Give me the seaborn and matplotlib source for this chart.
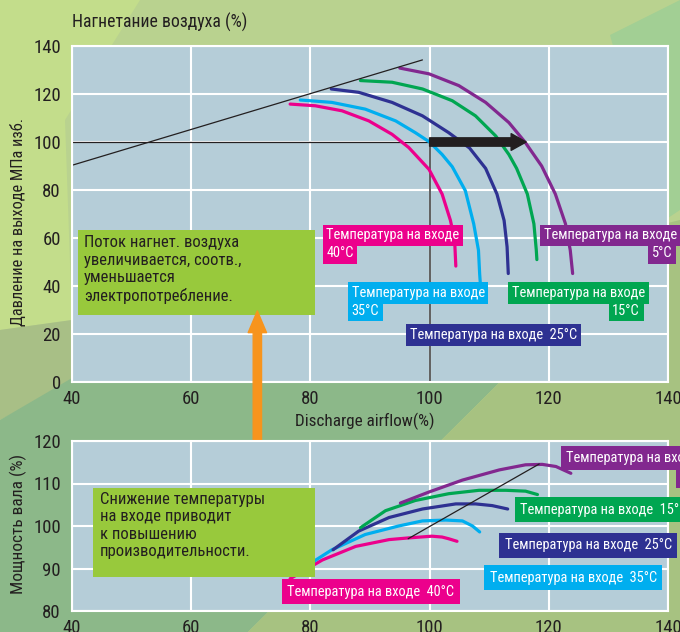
import numpy as np
import pandas as pd
import matplotlib
matplotlib.use("Agg")
import matplotlib.pyplot as plt
from matplotlib.patches import Polygon, Rectangle
import seaborn as sns

# ------------------------------------------------------------------
# data
# ------------------------------------------------------------------
temps = ["40°C", "35°C", "25°C", "15°C", "5°C"]
colors = ["#ec008c", "#00aeef", "#2e3192", "#00a651", "#82288f"]

# pressure vs discharge airflow (top chart)
p40_x = [76.6, 80.8, 85.3, 89.8, 93.7, 96.5, 99.9, 102.1, 103.5, 104.2, 104.4]
p40_y = [115.8, 115.1, 113.0, 108.8, 103.2, 97.7, 88.6, 78.3, 67.3, 59.0, 48.3]
p35_x = [78.3, 83.6, 89.2, 94.3, 97.6, 100.0, 102.1, 103.8, 106.0, 107.4, 108.2, 108.4, 108.5]
p35_y = [117.5, 116.5, 113.7, 108.8, 103.9, 100.0, 94.8, 89.7, 79.7, 65.9, 54.9, 45.0, 41.5]
p25_x = [83.5, 88.1, 93.7, 98.8, 103.2, 106.7, 109.4, 111.3, 112.5, 113.0, 113.2]
p25_y = [122.1, 120.7, 116.5, 110.9, 103.9, 97.5, 89.0, 78.3, 67.3, 56.3, 45.2]
p15_x = [88.4, 93.7, 98.8, 103.8, 107.7, 111.1, 113.3, 114.6, 116.4, 117.5, 117.9, 118.0]
p15_y = [125.6, 124.9, 122.1, 117.2, 110.9, 102.5, 94.8, 89.0, 78.3, 65.9, 55.0, 51.0]
p5_x = [95.0, 99.9, 104.9, 109.4, 113.3, 116.0, 118.8, 121.1, 122.8, 123.6, 124.0]
p5_y = [130.8, 128.4, 123.5, 116.5, 108.1, 100.0, 90.0, 78.3, 65.9, 54.9, 45.2]

# shaft power vs discharge airflow (bottom chart)
w40_x = [76.6, 82.0, 87.6, 93.2, 96.5, 100.4, 102.1, 103.2, 104.6]
w40_y = [87.6, 92.0, 95.2, 96.8, 97.2, 97.6, 97.4, 97.0, 96.4]
w35_x = [78.0, 83.6, 89.2, 94.8, 98.8, 102.7, 105.5, 107.2, 108.4]
w35_y = [89.4, 94.4, 98.0, 100.0, 101.2, 101.4, 101.2, 100.0, 98.6]
w25_x = [83.8, 88.1, 93.2, 98.8, 104.4, 107.7, 110.5, 113.1]
w25_y = [94.4, 98.8, 102.0, 104.0, 105.2, 105.2, 104.8, 104.0]
w15_x = [88.4, 92.6, 97.6, 103.2, 108.3, 112.8, 116.1, 118.1]
w15_y = [99.6, 103.6, 106.0, 107.6, 108.4, 108.4, 108.2, 107.4]
w5_x = [95.1, 99.9, 105.5, 111.7, 116.1, 118.9, 121.2, 123.7]
w5_y = [105.4, 108.0, 110.8, 113.2, 114.4, 114.5, 114.0, 112.4]

# thin black reference lines
top_line_x = [40.0, 98.8]
top_line_y = [90.3, 134.2]
bot_line_x = [96.4, 118.4]
bot_line_y = [97.0, 114.6]

op_point = (100, 100)
arrow_end_x = 116.2

xticks = [40, 60, 80, 100, 120, 140]
top_yticks = [0, 20, 40, 60, 80, 100, 120, 140]
bot_yticks = [80, 90, 100, 110, 120]

label_head = "Температура на входе"
note_top = "Поток нагнет. воздуха\nувеличивается, соотв.,\nуменьшается\nэлектропотребление."
note_bot = "Снижение температуры\nна входе приводит\nк повышению\nпроизводительности."


def long_df(xs, ys):
    rows = []
    for t, x, y in zip(temps, xs, ys):
        for i, (a, b) in enumerate(zip(x, y)):
            rows.append({"temp": t, "airflow": a, "value": b, "order": i})
    return pd.DataFrame(rows)


df_top = long_df([p40_x, p35_x, p25_x, p15_x, p5_x], [p40_y, p35_y, p25_y, p15_y, p5_y])
df_bot = long_df([w40_x, w35_x, w25_x, w15_x, w5_x], [w40_y, w35_y, w25_y, w15_y, w5_y])

# ------------------------------------------------------------------
sns.set_theme(style="whitegrid")
plt.rcParams["font.family"] = ["Roboto Condensed", "DejaVu Sans"]
dark = "#231f20"
plt.rcParams["text.color"] = dark

fig = plt.figure(figsize=(6.8, 6.32), dpi=100)
fig.patch.set_facecolor("#b9d28f")


def px(x, y):
    return (x / 680, 1 - y / 632)


# background shapes
bg = [
    ([(0, 0), (140, 0), (65, 120), (72, 320), (0, 330)], "#c3dd8b"),
    ([(0, 330), (72, 320), (72, 382), (0, 420)], "#a8bf86"),
    ([(0, 420), (72, 378), (500, 382), (248, 632), (0, 632)], "#8cb889"),
    ([(660, 225), (680, 220), (680, 632), (248, 632), (500, 382), (660, 382)], "#a7c281"),
    ([(610, 35), (680, 0), (680, 210), (662, 222)], "#a2cf94"),
]
for pts, c in bg:
    fig.add_artist(Polygon([px(*p) for p in pts], closed=True, transform=fig.transFigure,
                           fc=c, ec="none", zorder=-10))

ax1 = fig.add_axes([72 / 680, 1 - 382 / 632, 596 / 680, 336 / 632])
ax2 = fig.add_axes([72 / 680, 1 - 611 / 632, 596 / 680, 170 / 632])

for ax, yt in [(ax1, top_yticks), (ax2, bot_yticks)]:
    ax.set_facecolor("#b5cdd8")
    ax.set_xlim(40, 140)
    ax.set_ylim(yt[0], yt[-1])
    ax.set_xticks(xticks)
    ax.set_yticks(yt)
    ax.grid(True, color="white", lw=1.5)
    for s in ax.spines.values():
        s.set_color("white")
        s.set_linewidth(1.5)
    ax.tick_params(length=0, labelsize=13.5, colors=dark)
    ax.tick_params(axis="y", pad=8)
    ax.tick_params(axis="x", pad=6)

sns.lineplot(data=df_top, x="airflow", y="value", hue="temp", palette=colors, hue_order=temps,
             sort=False, estimator=None, lw=2.3, legend=False, ax=ax1)
sns.lineplot(data=df_bot, x="airflow", y="value", hue="temp", palette=colors, hue_order=temps,
             sort=False, estimator=None, lw=2.3, legend=False, ax=ax2)
for ax in (ax1, ax2):
    ax.set_xlabel("")
    ax.set_ylabel("")

ax1.plot(top_line_x, top_line_y, color=dark, lw=0.9)
ax2.plot(bot_line_x, bot_line_y, color=dark, lw=0.9)
ax1.plot([40, op_point[0]], [op_point[1], op_point[1]], color=dark, lw=0.9, zorder=1.5)
ax1.plot([op_point[0], op_point[0]], [0, op_point[1]], color="#444444", lw=1.2, zorder=1.5)

ax1.annotate("", xy=(arrow_end_x, op_point[1]), xytext=op_point,
             arrowprops=dict(arrowstyle="simple,head_width=1.0,head_length=0.9,tail_width=0.5",
                             color=dark, shrinkA=0, shrinkB=0, mutation_scale=12))

# green note boxes
ax1.add_patch(Rectangle((41.0, 27.9), 39.8, 35.4, fc="#98c93c", ec="none", zorder=3))
ax1.text(42.0, 61.3, note_top, ha="left", va="top", fontsize=12, color=dark,
         linespacing=1.22, zorder=4)
ax2.add_patch(Rectangle((43.5, 88.0), 37.3, 20.9, fc="#98c93c", ec="none", zorder=3))
ax2.text(44.7, 108.0, note_bot, ha="left", va="top", fontsize=12, color=dark,
         linespacing=1.2, zorder=4)

# orange arrow spanning both charts
ax1.annotate("", xy=(71.1, 29.6), xycoords=ax1.transData,
             xytext=(71.1, 108.9), textcoords=ax2.transData,
             arrowprops=dict(arrowstyle="simple,head_width=1.1,head_length=1.3,tail_width=0.5",
                             color="#f7941d", shrinkA=0, shrinkB=0, mutation_scale=12),
             zorder=5, annotation_clip=False)


def tag(ax, x, y, text, color, ha="left", pad=0.25):
    ax.text(x, y, text, color="white", ha=ha, va="center", fontsize=10.4, zorder=6,
            bbox=dict(boxstyle=f"square,pad={pad}", fc=color, ec="none"), clip_on=False)


# top chart temperature tags
tag(ax1, 82.7, 61.2, label_head, colors[0])
tag(ax1, 82.7, 53.6, "40°C", colors[0])
tag(ax1, 86.9, 37.1, label_head, colors[1])
tag(ax1, 86.9, 29.7, "35°C", colors[1])
tag(ax1, 96.7, 19.6, label_head + "  25°C", colors[2])
tag(ax1, 113.8, 37.1, label_head, colors[3])
tag(ax1, 135.3, 29.7, "15°C", colors[3], ha="right")
tag(ax1, 119.2, 61.2, label_head, colors[4])
tag(ax1, 140.7, 53.6, "5°C", colors[4], ha="right")

# bottom chart temperature tags
tag(ax2, 122.9, 116.0, label_head, colors[4], pad=0.32)
tag(ax2, 145.5, 111.6, "5°C", colors[4], ha="right", pad=0.32)
tag(ax2, 115.2, 103.8, label_head + "  15°C", colors[3], pad=0.38)
tag(ax2, 112.6, 95.5, label_head + "  25°C", colors[2], pad=0.38)
tag(ax2, 110.1, 87.8, label_head + "  35°C", colors[1], pad=0.38)
tag(ax2, 76.1, 84.5, label_head + "  40°C", colors[0], pad=0.38)

fig.text(*px(72, 22), "Нагнетание воздуха (%)", ha="left", va="center", fontsize=12.8, color=dark)
fig.text(*px(18, 222), "Давление на выходе МПа изб.", rotation=90, ha="center", va="center",
         fontsize=11.8, color=dark)
fig.text(*px(18, 524), "Мощность вала (%)", rotation=90, ha="center", va="center",
         fontsize=12.5, color=dark)
fig.text(*px(365, 421), "Discharge airflow(%)", ha="center", va="center", fontsize=12.3, color=dark)

fig.savefig("out.png", dpi=100, facecolor=fig.get_facecolor())
